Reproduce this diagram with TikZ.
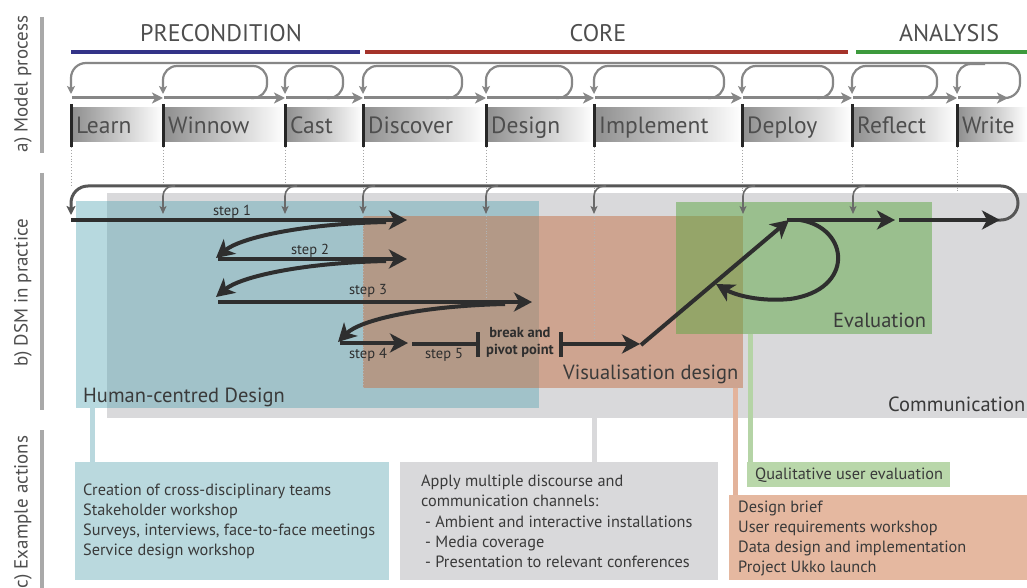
\documentclass[tikz,border=0pt]{standalone}
\usepackage{fontspec}
\setmainfont{PT Sans}
\usetikzlibrary{arrows.meta}
\definecolor{txt}{HTML}{3A3A3A}
\definecolor{hdrtxt}{HTML}{4E4E4E}
\definecolor{sidegray}{HTML}{A9A9A9}
\definecolor{precol}{HTML}{333388}
\definecolor{corecol}{HTML}{A5332A}
\definecolor{anacol}{HTML}{3D9A3D}
\definecolor{mpgray}{HTML}{878787}
\definecolor{stagegray}{HTML}{8E8E8E}
\definecolor{stagebar}{HTML}{262626}
\definecolor{dsmline}{HTML}{565656}
\definecolor{thinarr}{HTML}{6A6A6A}
\definecolor{stepdark}{HTML}{2E2E2E}
\definecolor{commgray}{HTML}{D9D9DB}
\definecolor{hcdblue}{RGB}{77,160,175}
\definecolor{visorange}{RGB}{197,113,71}
\definecolor{evalgreen}{RGB}{93,167,67}
\definecolor{boxblue}{HTML}{BAD9DE}
\definecolor{boxgray}{HTML}{D9D9DB}
\definecolor{boxgreen}{HTML}{B9D7AA}
\definecolor{boxorange}{HTML}{E5B8A0}
\definecolor{conblue}{HTML}{B9D8DE}
\definecolor{congreen}{HTML}{B5D4A6}
\definecolor{conorange}{HTML}{E3B39B}
\tikzset{
  sidelab/.style={rotate=90, text=hdrtxt, font=\fontsize{19}{21}\selectfont},
  sidebar/.style={draw=sidegray, line width=4pt},
  hdr/.style={text=hdrtxt, font=\fontsize{24}{28}\selectfont},
  stagetxt/.style={anchor=base west, text=hdrtxt, font=\fontsize{23.5}{26}\selectfont, inner sep=0pt},
  mprow/.style={draw=mpgray, line width=3pt, -{Stealth[length=11pt,width=11pt,inset=3pt]}},
  mploop/.style={draw=mpgray, line width=2.2pt, -{Stealth[length=8pt,width=8pt,inset=2pt]}},
  dotline/.style={draw=gray!70, dotted, line width=0.9pt},
  dsmtop/.style={draw=dsmline, line width=3pt, -{Stealth[length=9pt,width=9pt,inset=2pt]}},
  thinarrow/.style={draw=thinarr, line width=1.6pt, -{Stealth[length=8pt,width=7pt,inset=2pt]}},
  steparrow/.style={draw=stepdark, line width=4pt, -{Stealth[length=18pt,width=19pt,inset=5pt]}},
  stepline/.style={draw=stepdark, line width=4pt},
  steplab/.style={text=stepdark, font=\fontsize{14.5}{16}\selectfont, inner sep=0pt},
  arealab/.style={anchor=base west, text=txt, font=\fontsize{20.5}{23}\selectfont, inner sep=0pt},
  boxtxt/.style={anchor=base west, text=txt, font=\fontsize{16.3}{19}\selectfont, inner sep=0pt},
  connector/.style={line width=5pt},
}
\begin{document}
\begin{tikzpicture}[x=1pt,y=-1pt]
\useasboundingbox (0,0) rectangle (1027,588);
\fill[white] (0,0) rectangle (1027,588);

% side labels
\node[sidelab] (laba) at (23,84) {a) Model process};
\draw[sidebar] (42,17) -- (42,153);
\node[sidelab] (labb) at (23,293) {b) DSM in practice};
\draw[sidebar] (42,173) -- (42,410);
\node[sidelab] (labc) at (23,512) {c) Example actions};
\draw[sidebar] (42,430) -- (42,588);

% header
\node[hdr] (pre) at (221,33) {PRECONDITION};
\draw[precol, line width=4pt] (71,52) -- (360,52);
\node[hdr] (core) at (598,33) {CORE};
\draw[corecol, line width=4pt] (365,52) -- (848,52);
\node[hdr] (ana) at (949,33) {ANALYSIS};
\draw[anacol, line width=4pt] (856,52) -- (1027,52);

% stage boxes
\foreach \L/\R in {71/163,163/285,285/363,363/486,486/594,594/742,742/852,852/957,957/1027}{
  \shade[left color=stagegray, right color=white] (\L,108) rectangle (\R,142);
}
% dotted guide lines
\foreach \x/\e in {71/185,163/185,285/185,363/388,486/300,594/340,742/216,852/185,957/216}{
  \draw[dotline] (\x,147) -- (\x,\e);
}
\foreach \L/\lab in {71/Learn,163/Winnow,285/Cast,363/Discover,486/Design,594/Implement,742/Deploy,852/Reflect,957/Write}{
  \draw[stagebar, line width=3pt] (\L,104) -- (\L,147);
  \node[stagetxt] (st-\lab) at (\L+5,134) {\lab};
}
% arrow row
\foreach \L/\R in {71/163,163/285,285/363,363/486,486/594,594/742,742/852,852/957,957/1008}{
  \draw[mprow] (\L+1,98) -- (\R,98);
}
% small loops
\foreach \L/\cx in {163/251,285/327,363/446,486/556,594/708,742/817,852/921}{
  \draw[mploop, rounded corners=14pt] (\cx,98) -- (\cx+16,98) -- (\cx+16,66) -- (\L,66) -- (\L,94);
}
% big loop
\draw[mploop, rounded corners=15pt] (996,98) -- (1020,98) -- (1020,63) -- (71,63) -- (71,94);
\draw[mploop, rounded corners=14pt] (985,64) -- (957,64) -- (957,94);

% DSM backgrounds
\fill[commgray] (107,193) rectangle (1027,418);
\fill[hcdblue, opacity=0.4] (76,201) rectangle (539,408);
\fill[visorange, opacity=0.5] (363,216) rectangle (743,388);
\fill[evalgreen, opacity=0.5] (676,202) rectangle (932,334);
% dotted lines over boxes
\foreach \x/\e in {363/388,486/300,594/340}{
  \draw[dotline, draw=gray!60] (\x,216) -- (\x,\e);
}

\node[arealab] (hcd) at (83,402) {Human-centred Design};
\node[arealab] (vis) at (563,379) {Visualisation design};
\node[arealab] (eval) at (833,327) {Evaluation};
\node[arealab] (comm) at (888,411) {Communication};

% DSM top loop
\draw[dsmtop, rounded corners=17pt] (995,220) -- (1018,220) -- (1018,186) -- (71,186) -- (71,215);
\foreach \x in {163,285,363,486,594,743,853}{
  \draw[thinarrow, rounded corners=10pt] (\x+12,186) -- (\x,186) -- (\x,214);
}

% steps
\draw[steparrow] (71,220) -- (407,220);
\node[steplab] (s1) at (232,212) {step 1};
\draw[steparrow] (386,222) .. controls (300,224) and (240,238) .. (216,258);
\draw[steparrow] (218,259) -- (407,259);
\node[steplab] (s2) at (310,251) {step 2};
\draw[steparrow] (386,261) .. controls (300,263) and (240,277) .. (216,297);
\draw[steparrow] (218,302) -- (532,302);
\node[steplab] (s3) at (368,291) {step 3};
\draw[steparrow] (505,304) .. controls (420,306) and (360,320) .. (338,342);
\draw[steparrow] (340,343) -- (408,343);
\node[steplab] (s4) at (368,355) {step 4};
\draw[stepline] (412,344) -- (478,344);
\draw[stepline] (478,332) -- (478,357);
\node[steplab] (s5) at (444,355) {step 5};
\node[text=stepdark, font=\bfseries\fontsize{14.5}{17}\selectfont, align=center, inner sep=0pt] (bp) at (520,342) {break and\\pivot point};
\draw[stepline] (561,332) -- (561,357);
\draw[steparrow] (561,344) -- (640,344);
\draw[steparrow] (641,345) -- (789,220);
\draw[steparrow] (787,220) -- (895,220);
\draw[steparrow] (800,220) .. controls (850,228) and (855,290) .. (790,299) .. controls (760,302) and (735,295) .. (716,284);
\draw[steparrow] (899,220) -- (1000,220);

% connectors
\draw[connector, conblue] (92,408) -- (92,463);
\draw[connector, commgray] (594,418) -- (594,463);
\draw[connector, conorange] (735,388) -- (735,496);
\draw[connector, congreen] (750,334) -- (750,463);

% example boxes
\fill[boxblue] (75,462) rectangle (389,580);
\node[boxtxt] (b1) at (83,495) {Creation of cross-disciplinary teams};
\node[boxtxt] (b2) at (83,515) {Stakeholder workshop};
\node[boxtxt] (b3) at (83,535) {Surveys, interviews, face-to-face meetings};
\node[boxtxt] (b4) at (83,555) {Service design workshop};

\fill[boxgray] (400,462) rectangle (718,580);
\node[boxtxt] (g1) at (421,486) {Apply multiple discourse and};
\node[boxtxt] (g2) at (421,506) {communication channels:};
\node[boxtxt] (g3) at (425,527) {- Ambient and interactive installations};
\node[boxtxt] (g4) at (425,547) {- Media coverage};
\node[boxtxt] (g5) at (425,567) {- Presentation to relevant conferences};

\fill[boxgreen] (747,462) rectangle (950,487);
\node[boxtxt] (q1) at (755,479) {Qualitative user evaluation};

\fill[boxorange] (729,495) rectangle (1027,580);
\node[boxtxt] (o1) at (738,512) {Design brief};
\node[boxtxt] (o2) at (738,532) {User requirements workshop};
\node[boxtxt] (o3) at (738,552) {Data design and implementation};
\node[boxtxt] (o4) at (738,572) {Project Ukko launch};
\end{tikzpicture}
\end{document}
